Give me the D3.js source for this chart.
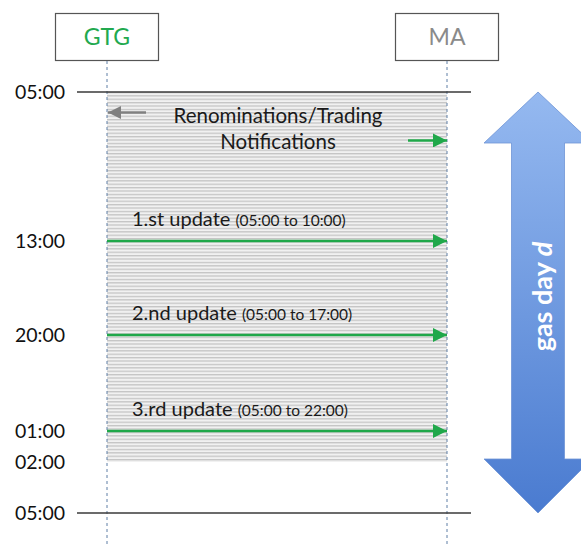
<!DOCTYPE html>
<html><head><meta charset="utf-8">
<script src="https://cdn.jsdelivr.net/npm/d3@7"></script>
<style>body{margin:0;background:#fff}svg{display:block}text{font-family:Lato,"Open Sans",sans-serif}</style>
</head><body><svg id="c" width="581" height="546"></svg>
<script>
// ---- data ----
const actors = ["GTG", "MA"];
const actorColors = ["#22a94f", "#8a8a8a"];
const timeLabels = ["05:00", "13:00", "20:00", "01:00", "02:00", "05:00"];
const timeHours = [0, 8, 15, 20, 21, 24];           // hours since 05:00 of gas day d
const updateNames = ["1.st update", "2.nd update", "3.rd update"];
const updateRanges = ["(05:00 to 10:00)", "(05:00 to 17:00)", "(05:00 to 22:00)"];
const updateHours = [8, 15, 20];
const renomLines = ["Renominations/Trading", "Notifications"];
const renomArrowHours = [1.1, 2.6];                  // gray (MA->GTG) and green (->MA)
const shadeHours = [0, 21];
const bigArrowLabel = "gas day ";
const bigArrowItalic = "d";

(function () {
// ---- scales ----
const W = 581, H = 546;
const svg = d3.select("#c");
const y = d3.scaleLinear().domain(timeHours).range([92, 241, 335, 431, 462, 513]);
const x = d3.scalePoint().domain(actors).range([107, 447]);
const defs = svg.append("defs");

// hatch pattern
const pat = defs.append("pattern").attr("id", "hatch").attr("patternUnits", "userSpaceOnUse")
  .attr("width", 6).attr("height", 3.4);
pat.append("rect").attr("width", 6).attr("height", 3.4).attr("fill", "#f1f1f1");
pat.append("rect").attr("y", 0).attr("width", 6).attr("height", 1.3).attr("fill", "#c4c4c4");

// gradient for big arrow
const grad = defs.append("linearGradient").attr("id", "blue").attr("x1", 0).attr("y1", 0).attr("x2", 0).attr("y2", 1);
grad.append("stop").attr("offset", "0%").attr("stop-color", "#95b9f0");
grad.append("stop").attr("offset", "100%").attr("stop-color", "#4a7bd0");

// arrow markers
function marker(id, color, w, h) {
  defs.append("marker").attr("id", id).attr("viewBox", "0 0 10 10").attr("refX", 10).attr("refY", 5)
    .attr("markerUnits", "userSpaceOnUse").attr("markerWidth", w).attr("markerHeight", h)
    .attr("orient", "auto").append("path").attr("d", "M0,0L10,5L0,10Z").attr("fill", color);
}
marker("mg", "#20a84a", 15, 14);
marker("mgr", "#808080", 15, 13);

// shaded region
svg.append("rect").attr("x", x("GTG")).attr("y", y(shadeHours[0]))
  .attr("width", x("MA") - x("GTG")).attr("height", y(shadeHours[1]) - y(shadeHours[0]))
  .attr("fill", "url(#hatch)");

// actor boxes
actors.forEach((a, i) => {
  svg.append("rect").attr("x", x(a) - 51.5).attr("y", 13.5).attr("width", 103).attr("height", 47)
    .attr("fill", "#fff").attr("stroke", "#555").attr("stroke-width", 1.2);
  svg.append("text").attr("x", x(a)).attr("y", 37).attr("dy", "0.35em").attr("text-anchor", "middle")
    .attr("font-size", 23).attr("fill", actorColors[i]).text(a);
  svg.append("line").attr("x1", x(a)).attr("x2", x(a)).attr("y1", 61).attr("y2", H)
    .attr("stroke", "#5f7fa6").attr("stroke-width", 1).attr("stroke-dasharray", "3,3");
});

// 05:00 boundary lines
[0, 24].forEach(h => {
  svg.append("line").attr("x1", 77).attr("x2", 471).attr("y1", y(h)).attr("y2", y(h))
    .attr("stroke", "#3a3a3a").attr("stroke-width", 1.5);
});

// time labels
svg.selectAll("text.t").data(timeLabels).join("text").attr("class", "t")
  .attr("x", 15).attr("y", (d, i) => y(timeHours[i])).attr("dy", "0.36em")
  .attr("font-size", 19.5).attr("fill", "#111").text(d => d);

// renomination text
svg.append("text").attr("x", 278).attr("y", y(renomArrowHours[0]) + 3)
  .attr("text-anchor", "middle").attr("font-size", 20.5).attr("fill", "#1a1a1a")
  .selectAll("tspan").data(renomLines).join("tspan")
  .attr("x", 278).attr("dy", (d, i) => i === 0 ? "0.35em" : 26).text(d => d);

// gray arrow (to GTG)
svg.append("line").attr("x1", 146).attr("x2", x("GTG") + 1).attr("y1", y(renomArrowHours[0])).attr("y2", y(renomArrowHours[0]))
  .attr("stroke", "#808080").attr("stroke-width", 2.5).attr("marker-end", "url(#mgr)");
// green short arrow (to MA)
svg.append("line").attr("x1", 408).attr("x2", x("MA")).attr("y1", y(renomArrowHours[1])).attr("y2", y(renomArrowHours[1]))
  .attr("stroke", "#20a84a").attr("stroke-width", 2.5).attr("marker-end", "url(#mg)");

// update arrows
updateHours.forEach((h, i) => {
  svg.append("line").attr("x1", x("GTG")).attr("x2", x("MA")).attr("y1", y(h)).attr("y2", y(h))
    .attr("stroke", "#20a84a").attr("stroke-width", 2.5).attr("marker-end", "url(#mg)");
  const t = svg.append("text").attr("x", 132).attr("y", y(h) - 21).attr("dy", "0.35em").attr("fill", "#1a1a1a");
  t.append("tspan").attr("font-size", 20).text(updateNames[i] + " ");
  t.append("tspan").attr("font-size", 15.5).text(updateRanges[i]);
});

// big double-headed arrow
const ax = 538, hw = 54, sw = 26.5;
const yTop = y(0), yBot = y(24), headH = 51;
const pts = [[ax, yTop], [ax + hw, yTop + headH], [ax + sw, yTop + headH], [ax + sw, yBot - headH - 3],
  [ax + hw, yBot - headH - 3], [ax, yBot], [ax - hw, yBot - headH - 3], [ax - sw, yBot - headH - 3],
  [ax - sw, yTop + headH], [ax - hw, yTop + headH]];
svg.append("path").attr("d", d3.line()(pts) + "Z").attr("fill", "url(#blue)")
  .attr("stroke", "#6f94d6").attr("stroke-width", 0.8);

const lt = svg.append("text").attr("transform", `translate(${ax + 14},${(yTop + yBot) / 2 - 6}) rotate(-90)`)
  .attr("text-anchor", "middle").attr("font-size", 27).attr("font-weight", "bold").attr("fill", "#fff");
lt.append("tspan").text(bigArrowLabel);
lt.append("tspan").attr("font-style", "italic").text(bigArrowItalic);
})();
</script></body></html>
